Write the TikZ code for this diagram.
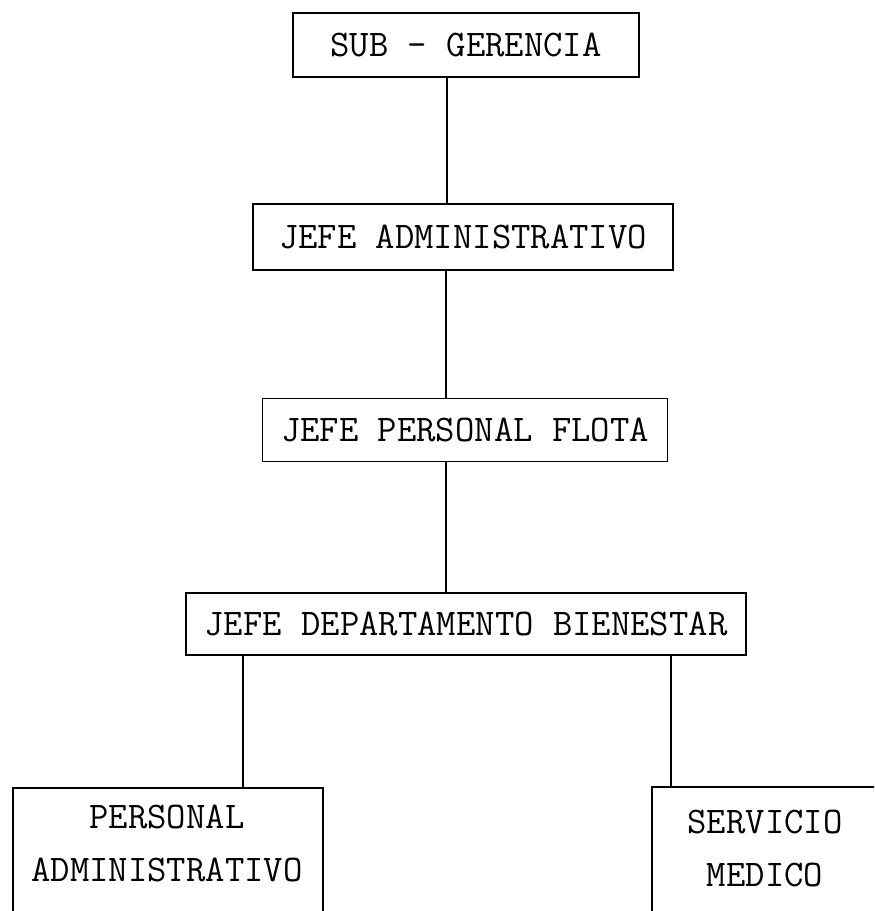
\documentclass[tikz,border=0pt]{standalone}
\usetikzlibrary{positioning,calc}
\tikzset{every picture/.style={line width=0.9pt}}
\tikzset{
    cargo/.style={draw, inner sep=0pt, font=\fontsize{18.8}{26.5}\selectfont\ttfamily},
    rotulo/.style={inner sep=0pt, align=center, font=\fontsize{18.8}{26.5}\selectfont\ttfamily}
}

\begin{document}
\begin{tikzpicture}[x=0.5pt,y=-0.5pt]
    \useasboundingbox (0,0) rectangle (874,911);
    \clip (0,0) rectangle (874,911);
    \node[cargo, minimum width=173pt, minimum height=32pt] (sub) at (466,45) {SUB - GERENCIA};
    \node[cargo, minimum width=210pt, minimum height=33pt] (adm) at (463,237) {JEFE ADMINISTRATIVO};
    \node[cargo, minimum width=202.5pt, minimum height=31.5pt] (flota) at (465,430) {JEFE PERSONAL FLOTA};
    \node[cargo, minimum width=280pt, minimum height=31pt] (bien) at (466,624) {JEFE DEPARTAMENTO BIENESTAR};
    \node[cargo, anchor=north west, minimum width=155pt, minimum height=90pt] (pers) at (12,787) {};
    \node[cargo, anchor=north west, minimum width=150pt, minimum height=90pt] (serv) at (651,786) {};
    \node[rotulo] (perstxt) at (167,843) {PERSONAL\\ADMINISTRATIVO};
    \node[rotulo] (servtxt) at (765,849) {SERVICIO\\MEDICO};
    \draw ([xshift=-9.5pt]sub.south) -- ([xshift=-9.5pt]sub.south |- adm.north);
    \draw ([xshift=-8.5pt]adm.south) -- ([xshift=-8.5pt]adm.south |- flota.north);
    \draw ([xshift=-9.5pt]flota.south) -- ([xshift=-9.5pt]flota.south |- bien.north);
    \draw ([xshift=29pt]bien.south west) -- ([xshift=29pt]bien.south west |- pers.north);
    \draw ([xshift=-38pt]bien.south east) -- ([xshift=-38pt]bien.south east |- serv.north);
\end{tikzpicture}
\end{document}
